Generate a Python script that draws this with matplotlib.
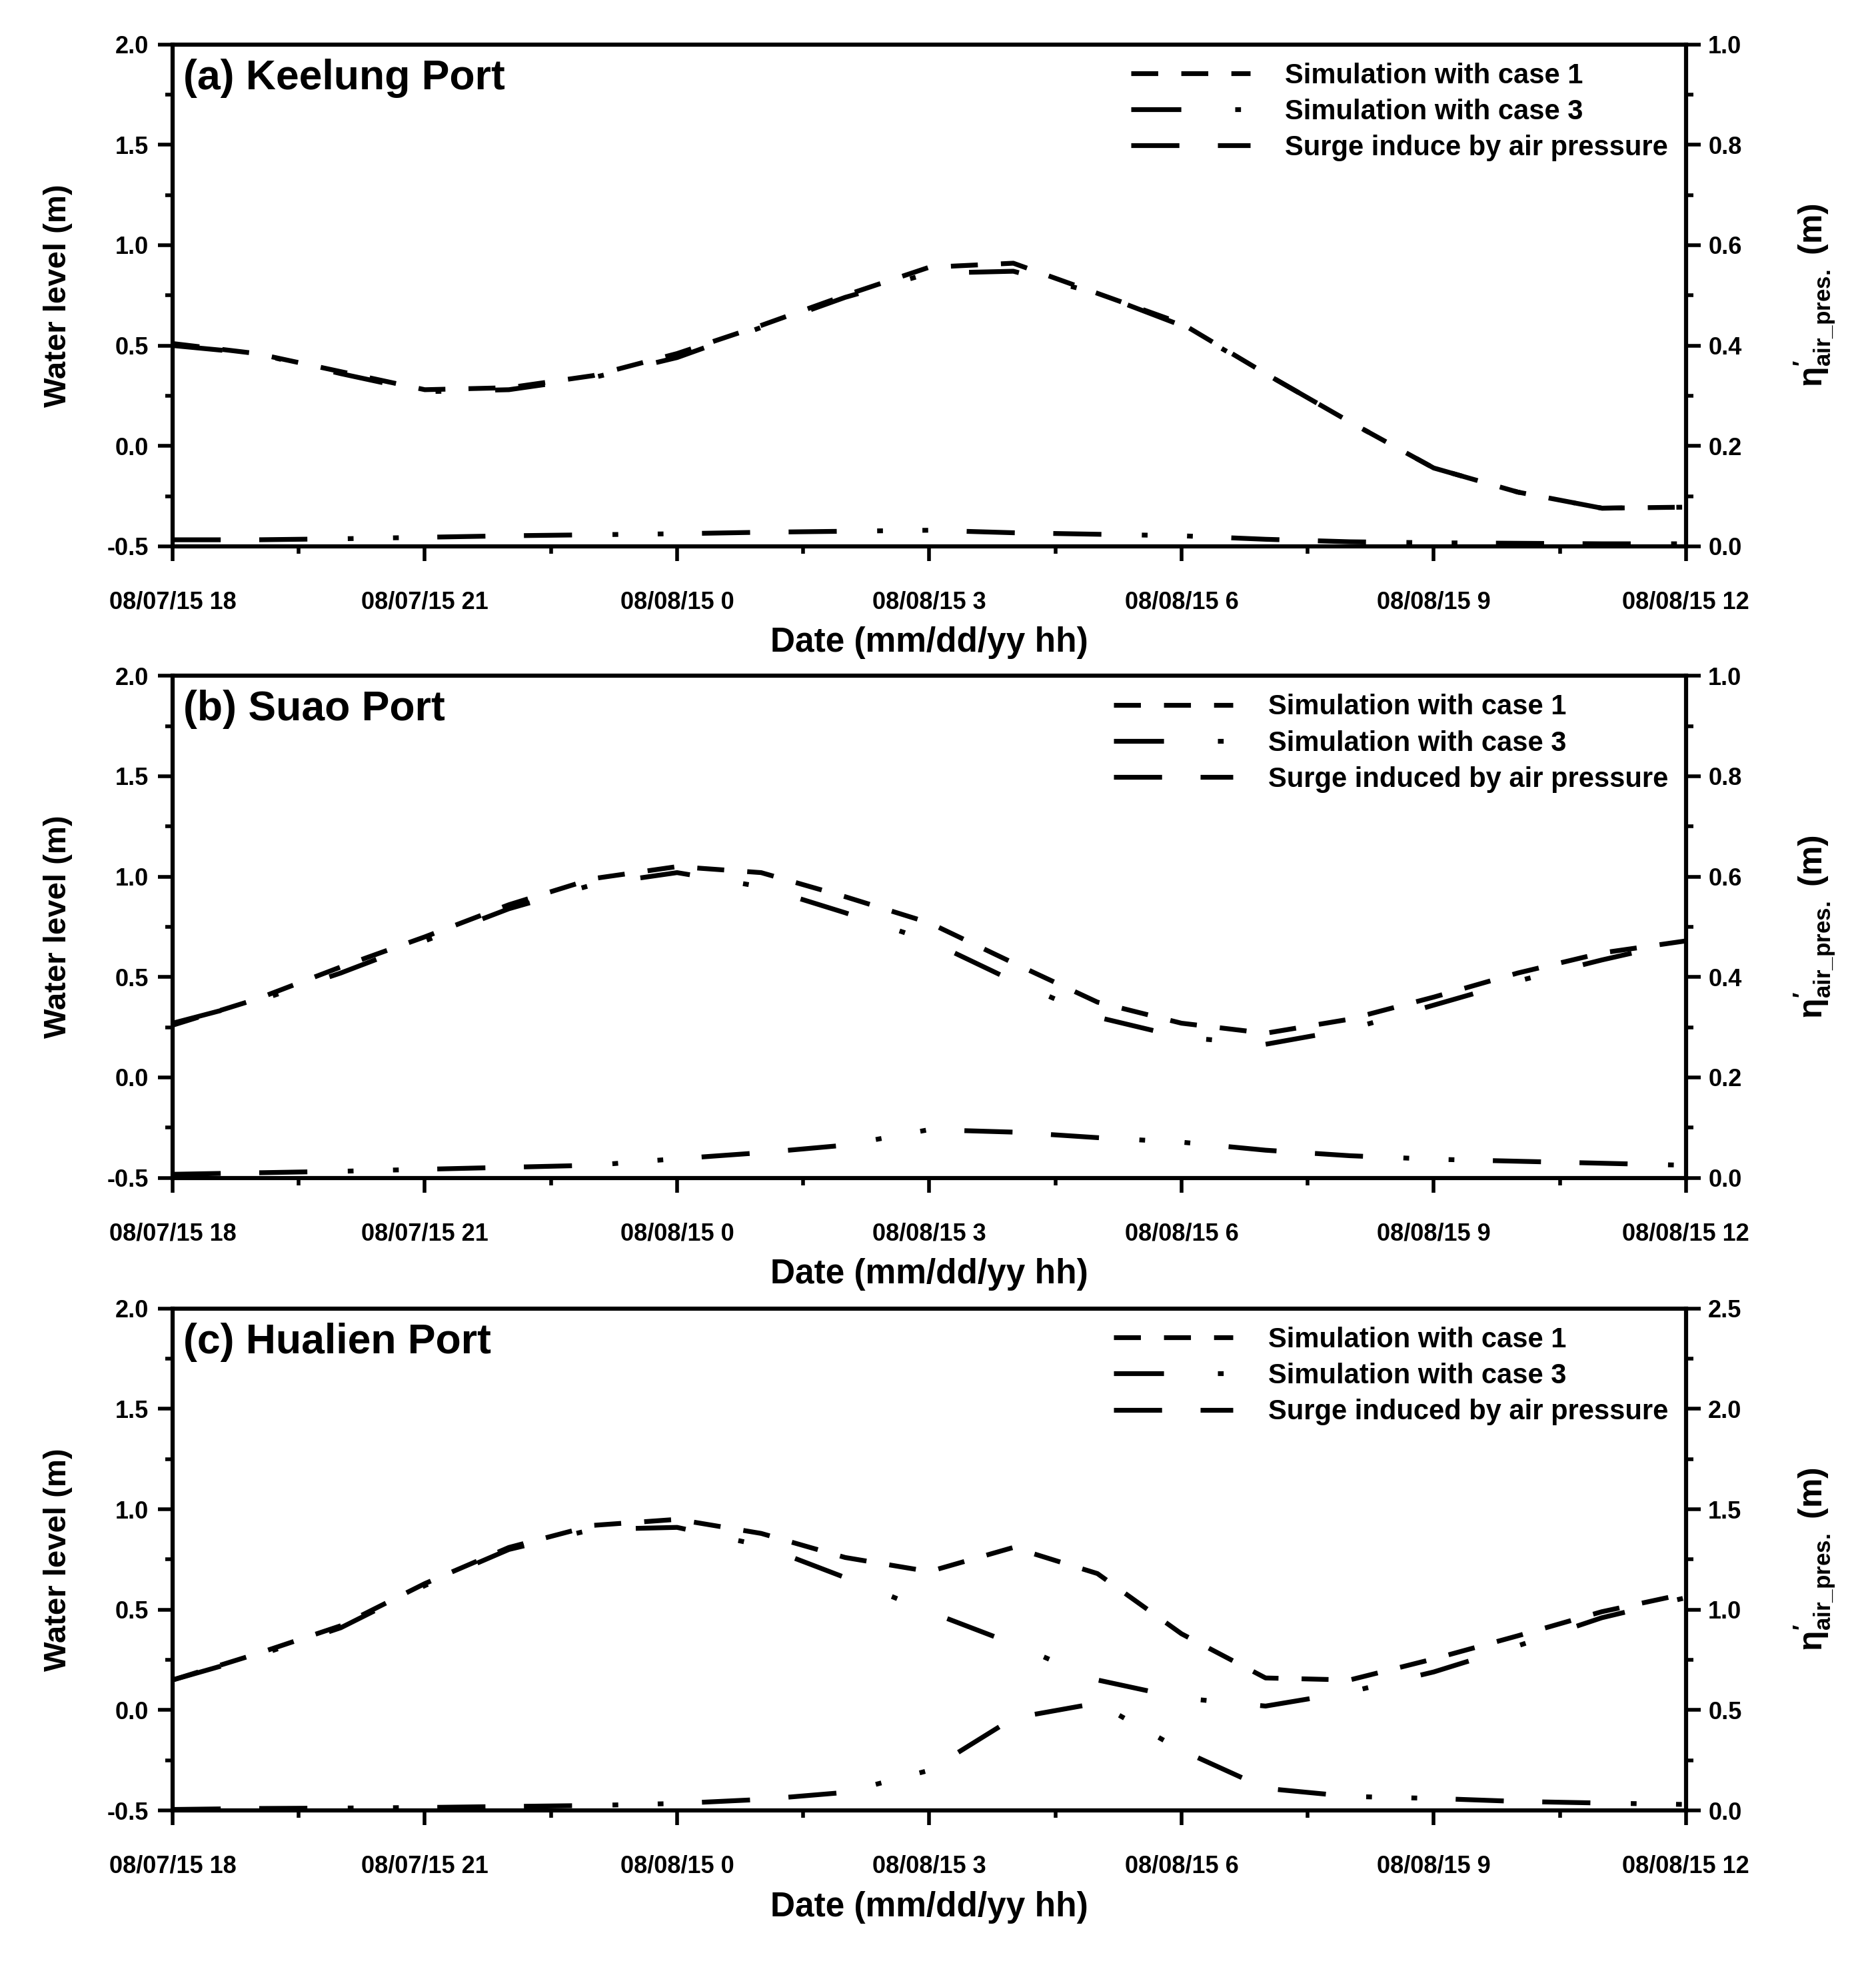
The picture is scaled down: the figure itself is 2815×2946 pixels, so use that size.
import matplotlib
matplotlib.use('Agg')
import matplotlib.pyplot as plt
from matplotlib.ticker import MultipleLocator, FormatStrFormatter

plt.rcParams['font.family'] = ['Liberation Sans', 'DejaVu Sans']
plt.rcParams['font.weight'] = 'bold'
plt.rcParams['axes.unicode_minus'] = False
plt.rcParams['mathtext.fontset'] = 'custom'
plt.rcParams['mathtext.rm'] = 'Liberation Sans'
plt.rcParams['mathtext.bf'] = 'Liberation Sans:bold'
plt.rcParams['mathtext.it'] = 'Liberation Sans:italic'

# hourly samples, 08/07/15 18h -> 08/08/15 12h
hours = list(range(19))
xtickPos = [0, 3, 6, 9, 12, 15, 18]
xtickLabels = ['08/07/15 18', '08/07/15 21', '08/08/15 0', '08/08/15 3',
               '08/08/15 6', '08/08/15 9', '08/08/15 12']

# (a) Keelung
keelungCase1 = [0.51, 0.46, 0.37, 0.28, 0.29, 0.35, 0.46, 0.60, 0.75, 0.89,
                0.91, 0.76, 0.61, 0.36, 0.12, -0.11, -0.23, -0.31, -0.305]
keelungCase3 = [0.50, 0.46, 0.36, 0.27, 0.28, 0.34, 0.44, 0.59, 0.74, 0.86,
                0.87, 0.76, 0.60, 0.36, 0.12, -0.11, -0.23, -0.31, -0.305]
keelungSurge = [0.013, 0.013, 0.015, 0.018, 0.021, 0.023, 0.025, 0.028, 0.030, 0.032,
                0.027, 0.024, 0.021, 0.014, 0.009, 0.007, 0.006, 0.005, 0.005]

# (b) Suao
suaoCase1 = [0.26, 0.39, 0.55, 0.70, 0.86, 0.99, 1.05, 1.02, 0.90, 0.77,
             0.57, 0.375, 0.27, 0.22, 0.29, 0.40, 0.52, 0.62, 0.68]
suaoCase3 = [0.27, 0.38, 0.52, 0.68, 0.84, 0.96, 1.02, 0.95, 0.82, 0.68,
             0.48, 0.30, 0.20, 0.165, 0.24, 0.36, 0.48, 0.585, 0.68]
suaoSurge = [0.007, 0.010, 0.013, 0.017, 0.021, 0.025, 0.038, 0.050, 0.065, 0.096,
             0.091, 0.080, 0.071, 0.055, 0.044, 0.037, 0.033, 0.029, 0.025]

# (c) Hualien
hualienCase1 = [0.15, 0.28, 0.42, 0.63, 0.81, 0.92, 0.95, 0.88, 0.76, 0.69,
                0.81, 0.68, 0.38, 0.16, 0.15, 0.255, 0.37, 0.49, 0.58]
hualienCase3 = [0.15, 0.27, 0.41, 0.62, 0.80, 0.90, 0.91, 0.82, 0.66, 0.49,
                0.33, 0.15, 0.06, 0.02, 0.09, 0.19, 0.32, 0.46, 0.56]
hualienSurge = [0.005, 0.010, 0.012, 0.015, 0.020, 0.025, 0.035, 0.055, 0.090, 0.200,
                0.460, 0.535, 0.300, 0.110, 0.070, 0.060, 0.045, 0.037, 0.030]

lw = 2.6
dashCase1 = (5.6, 4.8)
dashCase3 = (10.4, 11.2, 1.2, 11.2)
dashSurge = (10.0, 8.0, 10.0, 8.4, 1.2, 8.2, 1.2, 8.0)


def plotPanel(ax, title, case1, case3, surge, surgeMax, surgeStep, surgeLabel):
    l1, = ax.plot(hours, case1, color='black', lw=lw, dashes=dashCase1,
                  label='Simulation with case 1')
    l3, = ax.plot(hours, case3, color='black', lw=lw, dashes=dashCase3,
                  label='Simulation with case 3')
    ax.set_xlim(0, 18)
    ax.set_ylim(-0.5, 2.0)
    ax.set_xticks(xtickPos)
    ax.set_xticklabels(xtickLabels)
    ax.xaxis.set_minor_locator(MultipleLocator(1.5))
    ax.yaxis.set_major_locator(MultipleLocator(0.5))
    ax.yaxis.set_minor_locator(MultipleLocator(0.25))
    ax.yaxis.set_major_formatter(FormatStrFormatter('%.1f'))
    ax.tick_params(axis='both', which='major', direction='out', length=8, width=2, labelsize=13)
    ax.tick_params(axis='both', which='minor', direction='out', length=4, width=2)
    ax.tick_params(axis='x', which='major', pad=16)
    ax.tick_params(axis='y', which='major', pad=5)
    for sp in ax.spines.values():
        sp.set_linewidth(2.2)
    ax.set_xlabel('Date (mm/dd/yy hh)', fontsize=18.5, fontweight='bold')
    ax.xaxis.set_label_coords(0.5, -0.16)
    ax.set_ylabel('Water level (m)', fontsize=17, fontweight='bold')
    ax.yaxis.set_label_coords(-0.066, 0.5)
    ax.text(0.007, 0.972, title, transform=ax.transAxes, fontsize=22.5,
            fontweight='bold', ha='left', va='top')

    ax2 = ax.twinx()
    ls, = ax2.plot(hours, surge, color='black', lw=lw, dashes=dashSurge, label=surgeLabel)
    ax2.set_ylim(0, surgeMax)
    ax2.yaxis.set_major_locator(MultipleLocator(surgeStep))
    ax2.yaxis.set_minor_locator(MultipleLocator(surgeStep / 2))
    ax2.yaxis.set_major_formatter(FormatStrFormatter('%.1f'))
    ax2.tick_params(axis='y', which='major', direction='out', length=8, width=2, labelsize=13, pad=4)
    ax2.tick_params(axis='y', which='minor', direction='out', length=4, width=2)
    for sp in ax2.spines.values():
        sp.set_linewidth(2.2)
    ax2.set_ylabel(r'$\mathrm{\eta}^{\prime}_{\mathrm{air\_pres.}}$ $\mathbf{(m)}$', fontsize=18)
    ax2.yaxis.set_label_coords(1.07, 0.5)

    ax2.legend(handles=[l1, l3, ls], loc='upper right', bbox_to_anchor=(1.0, 1.0),
               frameon=False, fontsize=15, handlelength=4.3, handletextpad=1.25,
               labelspacing=0.34, borderaxespad=0.35, borderpad=0.3)


fig = plt.figure(figsize=(14.075, 14.73), dpi=200)
left, width, height = 0.092, 0.8067, 0.2557
axA = fig.add_axes([left, 0.7217, width, height])
axB = fig.add_axes([left, 0.4000, width, height])
axC = fig.add_axes([left, 0.0777, width, height])

plotPanel(axA, '(a) Keelung Port', keelungCase1, keelungCase3, keelungSurge,
          1.0, 0.2, 'Surge induce by air pressure')
plotPanel(axB, '(b) Suao Port', suaoCase1, suaoCase3, suaoSurge,
          1.0, 0.2, 'Surge induced by air pressure')
plotPanel(axC, '(c) Hualien Port', hualienCase1, hualienCase3, hualienSurge,
          2.5, 0.5, 'Surge induced by air pressure')

fig.savefig('out.png', dpi=200)
